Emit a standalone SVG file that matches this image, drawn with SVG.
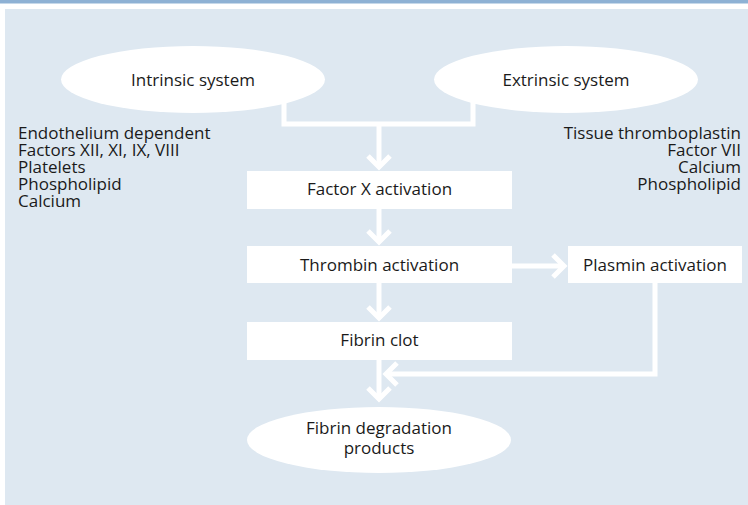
<svg xmlns="http://www.w3.org/2000/svg" width="748" height="505" viewBox="0 0 748 505">
  <style>
    .panel { fill: #dee8f1; }
    .bar { fill: #8eb1d4; }
    .shape { fill: #ffffff; }
    .label { font-family: "Open Sans", "Liberation Sans", sans-serif; font-size: 17px; fill: #1a1a1a; }
    .mid { text-anchor: middle; }
    .end { text-anchor: end; }
    .wire { fill: none; stroke: #ffffff; stroke-width: 5; }
  </style>
  <defs>
    <marker id="chev" markerUnits="userSpaceOnUse" viewBox="-14 -14 16 28" markerWidth="16" markerHeight="28" refX="0" refY="0" orient="auto" overflow="visible">
      <path d="M-11,-11 L0,0 L-11,11" fill="none" stroke="#ffffff" stroke-width="5" stroke-linejoin="miter"/>
    </marker>
  </defs>

  <!-- background -->
  <rect class="bar" x="0" y="0" width="748" height="3.5"/>
  <rect class="panel" x="5" y="9" width="743" height="496"/>

  <!-- connectors -->
  <g id="connectors">
    <polyline class="wire" points="284,102 284,124 473,124 473,102"/>
    <line class="wire" x1="379" y1="124" x2="379" y2="167" marker-end="url(#chev)"/>
    <line class="wire" x1="379" y1="209" x2="379" y2="242" marker-end="url(#chev)"/>
    <line class="wire" x1="512" y1="266" x2="564" y2="266" marker-end="url(#chev)"/>
    <line class="wire" x1="379" y1="283" x2="379" y2="318" marker-end="url(#chev)"/>
    <line class="wire" x1="379" y1="360" x2="379" y2="399" marker-end="url(#chev)"/>
    <polyline class="wire" points="655,283 655,374 386,374" marker-end="url(#chev)"/>
  </g>

  <g id="intrinsic">
    <ellipse class="shape" cx="193" cy="79.5" rx="132" ry="33.5"/>
    <text class="label mid" x="193" y="86">Intrinsic system</text>
  </g>

  <g id="extrinsic">
    <ellipse class="shape" cx="566" cy="79.5" rx="132" ry="33.5"/>
    <text class="label mid" x="566" y="86">Extrinsic system</text>
  </g>

  <g id="intrinsic-factors">
    <text class="label" x="18" y="138.5">Endothelium dependent</text>
    <text class="label" x="18" y="155.7">Factors XII, XI, IX, VIII</text>
    <text class="label" x="18" y="172.9">Platelets</text>
    <text class="label" x="18" y="190.1">Phospholipid</text>
    <text class="label" x="18" y="207.3">Calcium</text>
  </g>

  <g id="extrinsic-factors">
    <text class="label end" x="741" y="138.5">Tissue thromboplastin</text>
    <text class="label end" x="741" y="155.7">Factor VII</text>
    <text class="label end" x="741" y="172.9">Calcium</text>
    <text class="label end" x="741" y="190.1">Phospholipid</text>
  </g>

  <g id="factor-x">
    <rect class="shape" x="247" y="171" width="265" height="38"/>
    <text class="label mid" x="379.5" y="195">Factor X activation</text>
  </g>

  <g id="thrombin">
    <rect class="shape" x="247" y="246" width="265" height="37"/>
    <text class="label mid" x="379.5" y="270.5">Thrombin activation</text>
  </g>

  <g id="plasmin">
    <rect class="shape" x="568" y="246" width="174" height="37"/>
    <text class="label mid" x="655" y="270.5">Plasmin activation</text>
  </g>

  <g id="fibrin-clot">
    <rect class="shape" x="247" y="322" width="265" height="38"/>
    <text class="label mid" x="379.5" y="346">Fibrin clot</text>
  </g>

  <g id="degradation">
    <ellipse class="shape" cx="379" cy="440" rx="132" ry="33"/>
    <text class="label mid" x="379" y="434">Fibrin degradation</text>
    <text class="label mid" x="379" y="454">products</text>
  </g>
</svg>
